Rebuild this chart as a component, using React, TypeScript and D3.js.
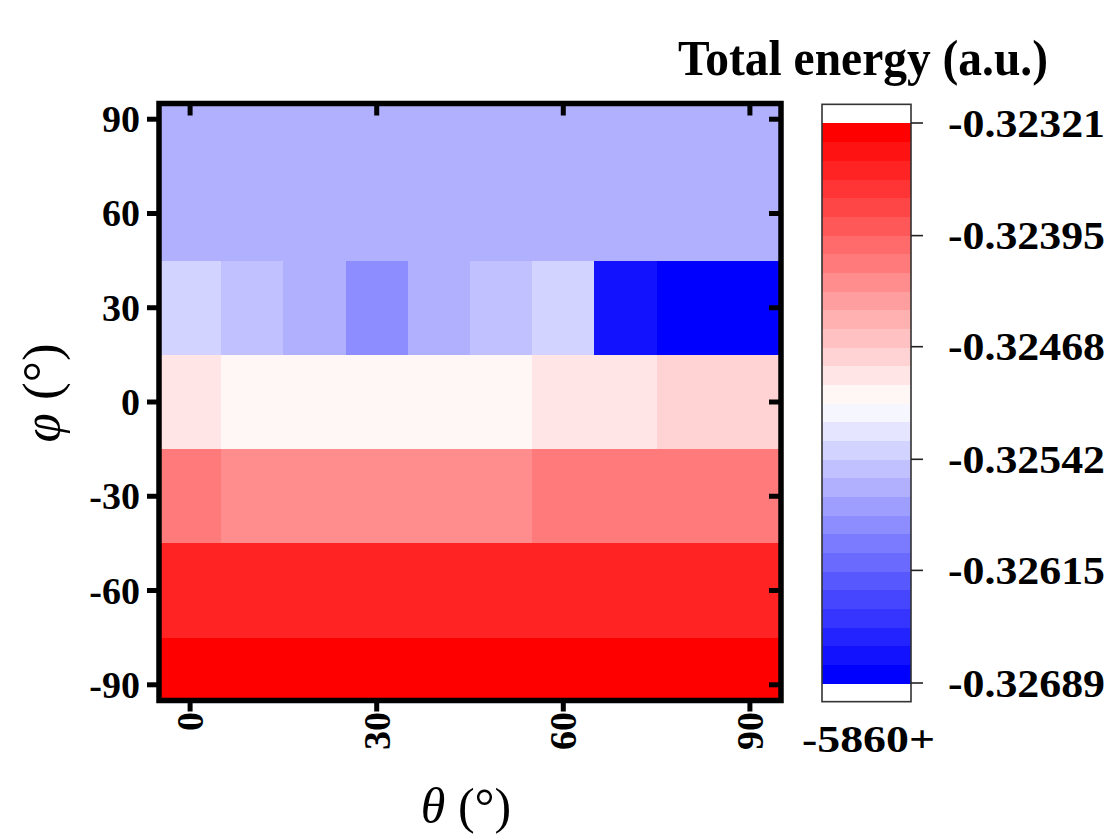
import React from "react";
import * as d3 from "d3";

// ---- data (energies relative to -5860 a.u.) ----
const thetaValues = [0, 10, 20, 30, 40, 50, 60, 70, 80, 90];
const phiValues = [90, 60, 30, 0, -30, -60, -90];
const energyPhi90 = [-0.3256, -0.3256, -0.3256, -0.3256, -0.3256, -0.3256, -0.3256, -0.3256, -0.3256, -0.3256];
const energyPhi60 = [-0.3256, -0.3256, -0.3256, -0.3256, -0.3256, -0.3256, -0.3256, -0.3256, -0.3256, -0.3256];
const energyPhi30 = [-0.32536, -0.32548, -0.3256, -0.32585, -0.3256, -0.32548, -0.32536, -0.32671, -0.32689, -0.32689];
const energyPhi0 = [-0.32487, -0.32499, -0.32499, -0.32499, -0.32499, -0.32499, -0.32487, -0.32487, -0.32475, -0.32475];
const energyPhiM30 = [-0.32413, -0.32425, -0.32425, -0.32425, -0.32425, -0.32425, -0.32413, -0.32413, -0.32413, -0.32413];
const energyPhiM60 = [-0.32352, -0.32352, -0.32352, -0.32352, -0.32352, -0.32352, -0.32352, -0.32352, -0.32352, -0.32352];
const energyPhiM90 = [-0.32321, -0.32321, -0.32321, -0.32321, -0.32321, -0.32321, -0.32321, -0.32321, -0.32321, -0.32321];
const energyRows = [energyPhi90, energyPhi60, energyPhi30, energyPhi0, energyPhiM30, energyPhiM60, energyPhiM90];

const axisTicks = [0, 30, 60, 90];
const phiTicks = [90, 60, 30, 0, -30, -60, -90];
const colorbarTicks = [-0.32321, -0.32395, -0.32468, -0.32542, -0.32615, -0.32689];
const colorbarTickLabels = ["-0.32321", "-0.32395", "-0.32468", "-0.32542", "-0.32615", "-0.32689"];
const energyMin = -0.32689;
const energyMax = -0.32321;
const nLevels = 30;
const offsetLabel = "-5860+";

const FONT = "'Liberation Serif', 'Times New Roman', serif";

export default function App() {
  const x = d3.scaleLinear().domain([-5, 95]).range([159, 781]);
  const y = d3.scaleLinear().domain([-95, 95]).range([700.5, 103.5]);

  const interp = d3.piecewise(d3.interpolateRgb, ["#0000ff", "#ffffff", "#ff0000"]);
  const levelColors = d3.range(nLevels).map((k) => interp(k / (nLevels - 1)));
  const color = d3.scaleQuantize<string>().domain([energyMin, energyMax]).range(levelColors);

  const cb = d3.scaleLinear().domain([energyMin, energyMax]).range([683, 123]);
  const step = (energyMax - energyMin) / nLevels;
  const bandH = cb(energyMin) - cb(energyMin + step);

  const cells: JSX.Element[] = [];
  phiValues.forEach((phi, r) => {
    thetaValues.forEach((th, c) => {
      const x0 = x(Math.max(-5, th - 5));
      const x1 = x(Math.min(95, th + 5));
      const yTop = y(Math.min(95, phi + 15));
      const yBot = y(Math.max(-95, phi - 15));
      cells.push(
        <rect
          key={`${r}-${c}`}
          x={x0}
          y={yTop}
          width={x1 - x0 + 0.6}
          height={yBot - yTop + 0.6}
          fill={color(energyRows[r][c])}
          shapeRendering="crispEdges"
        />
      );
    });
  });

  const tw = 5;
  return (
    <svg
      width={1118}
      height={839}
      style={{ position: "absolute", left: 0, top: 0, background: "#fff" }}
      fontFamily={FONT}
    >
      {cells}
      {/* ticks left (outside) and right (inside) */}
      {phiTicks.map((p) => (
        <g key={`py${p}`}>
          <line x1={x(-5) - 12} x2={x(-5)} y1={y(p)} y2={y(p)} stroke="#000" strokeWidth={tw} />
          <line x1={x(95) - 12} x2={x(95)} y1={y(p)} y2={y(p)} stroke="#000" strokeWidth={tw} />
          <text x={140} y={y(p) + 13} textAnchor="end" fontSize={38} fontWeight="bold">
            {p}
          </text>
        </g>
      ))}
      {axisTicks.map((t) => (
        <g key={`tx${t}`}>
          <line x1={x(t)} x2={x(t)} y1={y(-95)} y2={y(-95) + 11} stroke="#000" strokeWidth={tw} />
          <line x1={x(t)} x2={x(t)} y1={y(95)} y2={y(95) + 12} stroke="#000" strokeWidth={tw} />
          <text
            transform={`translate(${x(t) + 13},${712}) rotate(-90)`}
            textAnchor="end"
            fontSize={38}
            fontWeight="bold"
          >
            {t}
          </text>
        </g>
      ))}
      {/* frame */}
      <rect
        x={x(-5)}
        y={y(95)}
        width={x(95) - x(-5)}
        height={y(-95) - y(95)}
        fill="none"
        stroke="#000"
        strokeWidth={5.5}
      />

      {/* axis titles */}
      <text x={466} y={823} textAnchor="middle" fontSize={50}>
        <tspan fontStyle="italic">θ</tspan>
        <tspan> (°)</tspan>
      </text>
      <text transform={`translate(59,393) rotate(-90)`} textAnchor="middle" fontSize={53}>
        <tspan fontStyle="italic">φ</tspan>
        <tspan> (°)</tspan>
      </text>

      {/* colorbar */}
      <rect
        x={822}
        y={cb(energyMax) - bandH}
        width={89}
        height={cb(energyMin) - cb(energyMax) + 2 * bandH}
        fill="#fff"
      />
      {levelColors.map((c, k) => {
        const yTop = cb(energyMin + (k + 1) * step);
        const yBot = cb(energyMin + k * step);
        return (
          <rect
            key={`cb${k}`}
            x={822}
            y={yTop}
            width={89}
            height={yBot - yTop + 0.5}
            fill={c}
            shapeRendering="crispEdges"
          />
        );
      })}
      <rect
        x={822}
        y={cb(energyMax) - bandH}
        width={89}
        height={cb(energyMin) - cb(energyMax) + 2 * bandH}
        fill="none"
        stroke="#333"
        strokeWidth={1.6}
      />
      {colorbarTicks.map((v, i) => (
        <g key={`cbt${i}`}>
          <line x1={911} x2={923} y1={cb(v)} y2={cb(v)} stroke="#222" strokeWidth={1.6} />
          <text
            x={948}
            y={cb(v) + 13.5}
            fontSize={40}
            fontWeight="bold"
            textLength={157}
            lengthAdjust="spacingAndGlyphs"
          >
            {colorbarTickLabels[i]}
          </text>
        </g>
      ))}
      <text x={802} y={752} fontSize={38} fontWeight="bold" textLength={133} lengthAdjust="spacingAndGlyphs">
        {offsetLabel}
      </text>
      <text x={678} y={75} fontSize={50} fontWeight="bold" textLength={370} lengthAdjust="spacingAndGlyphs">
        Total energy (a.u.)
      </text>
    </svg>
  );
}
